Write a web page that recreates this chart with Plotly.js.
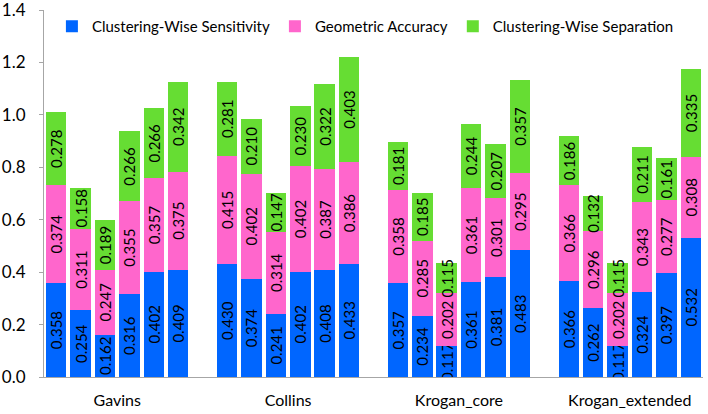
<!DOCTYPE html>
<html>
<head>
<meta charset="utf-8">
<script src="https://cdn.plot.ly/plotly-3.0.1.min.js"></script>
<style>html,body{margin:0;padding:0;background:#fff;}#chart{width:708px;height:414px;}</style>
</head>
<body>
<div id="chart"></div>
<script>
const groups = ["Gavins", "Collins", "Krogan_core", "Krogan_extended"];
const seriesNames = ["Clustering-Wise Sensitivity", "Geometric Accuracy", "Clustering-Wise Separation"];
// values per group, 6 bars each
const sensitivity = [
  [0.358, 0.254, 0.162, 0.316, 0.402, 0.409],
  [0.430, 0.374, 0.241, 0.402, 0.408, 0.433],
  [0.357, 0.234, 0.117, 0.361, 0.381, 0.483],
  [0.366, 0.262, 0.117, 0.324, 0.397, 0.532]
];
const accuracy = [
  [0.374, 0.311, 0.247, 0.355, 0.357, 0.375],
  [0.415, 0.402, 0.314, 0.402, 0.387, 0.386],
  [0.358, 0.285, 0.202, 0.361, 0.301, 0.295],
  [0.366, 0.296, 0.202, 0.343, 0.277, 0.308]
];
const separation = [
  [0.278, 0.158, 0.189, 0.266, 0.266, 0.342],
  [0.281, 0.210, 0.147, 0.230, 0.322, 0.403],
  [0.181, 0.185, 0.115, 0.244, 0.207, 0.357],
  [0.186, 0.132, 0.115, 0.211, 0.161, 0.335]
];
const colors = ["#0066ff", "#ff66cc", "#66dd33"];
const yTicks = [0, 0.2, 0.4, 0.6, 0.8, 1.0, 1.2, 1.4];

const slot = 7; // 6 bars + 1 gap
const xs = [];
groups.forEach((g, gi) => { for (let i = 0; i < 6; i++) xs.push(gi * slot + i); });
const groupCenters = groups.map((g, gi) => gi * slot + 2.5);

const FONT = "Lato, 'Open Sans', sans-serif";
const traces = [sensitivity, accuracy, separation].map((arr, k) => ({
  type: "bar",
  name: seriesNames[k],
  x: xs,
  y: arr.flat(),
  width: 0.84,
  marker: { color: colors[k], line: { width: 0 } },
  texttemplate: "%{y:.3f}",
  textposition: "inside",
  insidetextanchor: "middle",
  textangle: -90,
  constraintext: "none",
  textfont: { family: FONT, size: 15, color: "#000" },
  hoverinfo: "skip"
}));

const layout = {
  width: 708, height: 414,
  margin: { l: 44, r: 5, t: 10, b: 37 },
  barmode: "stack",
  paper_bgcolor: "#fff", plot_bgcolor: "#fff",
  font: { family: FONT, size: 15, color: "#000" },
  showlegend: true,
  legend: {
    orientation: "h", x: 0.012, y: 1.0, xanchor: "left", yanchor: "top",
    bgcolor: "rgba(0,0,0,0)", font: { family: FONT, size: 15, color: "#000" },
    traceorder: "normal"
  },
  xaxis: {
    range: [-0.5, 26.5],
    tickmode: "array", tickvals: groupCenters, ticktext: groups,
    ticks: "", showgrid: false, zeroline: false,
    showline: true, linecolor: "#a6a6a6", linewidth: 1,
    tickfont: { family: FONT, size: 16, color: "#000" },
    ticklabelstandoff: 9
  },
  yaxis: {
    range: [0, 1.4005],
    tickmode: "array", tickvals: yTicks, ticktext: yTicks.map(v => v.toFixed(1)),
    ticks: "outside", ticklen: 4, tickcolor: "#a6a6a6",
    showgrid: false, zeroline: false,
    showline: true, linecolor: "#a6a6a6", linewidth: 1,
    tickfont: { family: FONT, size: 17, color: "#000" },
    ticklabelstandoff: 10,
    ticklabeloverflow: "allow"
  }
};

Plotly.newPlot("chart", traces, layout, { displayModeBar: false, staticPlot: true });
</script>
</body>
</html>
